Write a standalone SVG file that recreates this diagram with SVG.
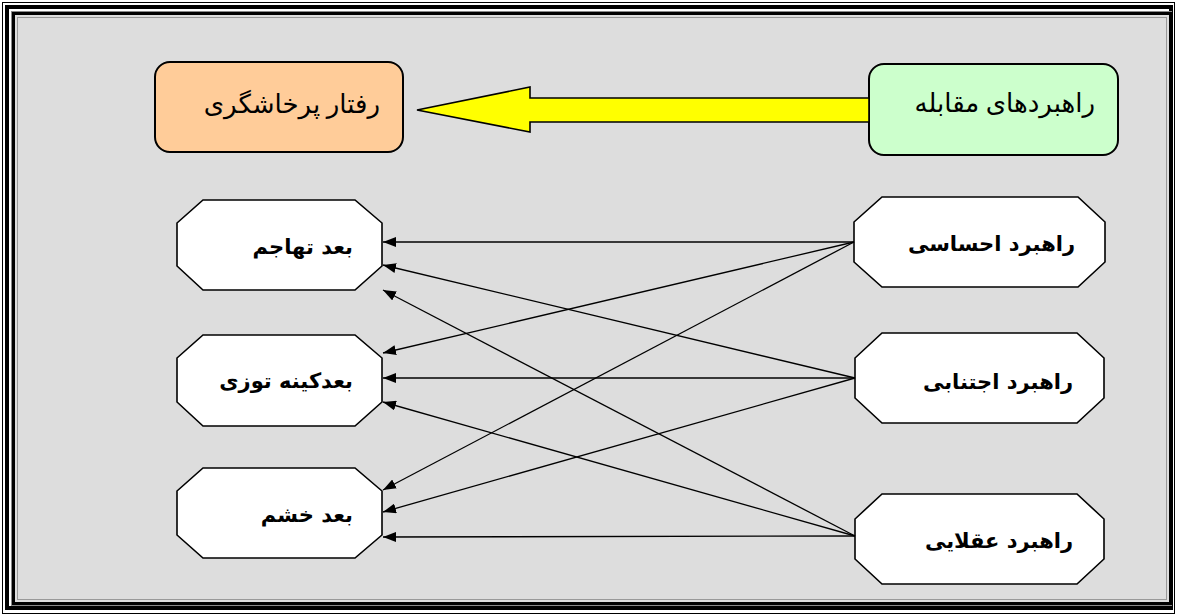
<svg xmlns="http://www.w3.org/2000/svg" width="1177" height="616" viewBox="0 0 1177 616">
<defs>
<style>
.box{stroke:#000;stroke-width:2}
.oct{fill:#fff;stroke:#000;stroke-width:1.6}
.t1{font-family:"Liberation Serif","DejaVu Serif","DejaVu Sans",serif;font-size:26px;fill:#000}
.t2{font-family:"DejaVu Sans",sans-serif;font-size:21px;font-weight:bold;fill:#000}
.con{stroke:#000;stroke-width:1.3;fill:none;marker-end:url(#ah)}
</style>
<marker id="ah" viewBox="0 0 13 10" refX="13" refY="5" markerWidth="13" markerHeight="10" markerUnits="userSpaceOnUse" orient="auto">
<path d="M0,0 L13,5 L0,10 Z" fill="#000"/>
</marker>
</defs>
<rect x="0" y="0" width="1177" height="616" fill="#fff"/>
<rect x="2.5" y="2.5" width="1172" height="611" fill="none" stroke="#000" stroke-width="1"/>
<rect x="7" y="7" width="1164" height="601" fill="none" stroke="#000" stroke-width="4"/>
<rect x="11.5" y="11.5" width="1160" height="594" fill="none" stroke="#888" stroke-width="1"/>
<rect x="13.5" y="13.5" width="1157" height="590" fill="#dddddd" stroke="#000" stroke-width="3"/>
<rect x="17.5" y="17.5" width="1149" height="582" fill="none" stroke="#999" stroke-width="1"/>

<g id="aggressive">
<rect class="box" x="155" y="62" width="248" height="90" rx="15" fill="#ffcc99"/>
<text class="t1" x="380" y="113" direction="rtl" text-anchor="start">رفتار پرخاشگری</text>
</g>
<g id="coping">
<rect class="box" x="869" y="64" width="249" height="91" rx="15" fill="#ccffcc"/>
<text class="t1" x="1095" y="112" direction="rtl" text-anchor="start">راهبردهای مقابله</text>
</g>
<g id="big-arrow">
<polygon points="417,110 530,87 530,98 869,98 869,122 530,122 530,132" fill="#ffff00" stroke="#000" stroke-width="1.6" stroke-linejoin="miter"/>
</g>

<g id="n-attack">
<polygon class="oct" points="203,200 355,200 382,223 382,266 355,290 203,290 177,266 177,223"/>
<text class="t2" x="353" y="254" direction="rtl" text-anchor="start">بعد تهاجم</text>
</g>
<g id="n-hostility">
<polygon class="oct" points="203,335 355,335 382,358 382,402 355,426 203,426 177,402 177,358"/>
<text class="t2" x="353" y="388" direction="rtl" text-anchor="start">بعدکینه توزی</text>
</g>
<g id="n-anger">
<polygon class="oct" points="203,468 355,468 382,491 382,535 355,558 203,558 177,535 177,491"/>
<text class="t2" x="353" y="522" direction="rtl" text-anchor="start">بعد خشم</text>
</g>
<g id="n-emotional">
<polygon class="oct" points="882,197 1078,197 1105,222 1105,262 1078,287 882,287 854,262 854,222"/>
<text class="t2" x="1075" y="251" direction="rtl" text-anchor="start">راهبرد احساسی</text>
</g>
<g id="n-avoidant">
<polygon class="oct" points="882,333 1077,333 1104,358 1104,398 1077,423 882,423 855,398 855,358"/>
<text class="t2" x="1073" y="389" direction="rtl" text-anchor="start">راهبرد اجتنابی</text>
</g>
<g id="n-rational">
<polygon class="oct" points="882,494 1077,494 1104,519 1104,559 1077,584 882,584 855,559 855,519"/>
<text class="t2" x="1073" y="548" direction="rtl" text-anchor="start">راهبرد عقلایی</text>
</g>

<g id="connectors">
<line class="con" x1="854" y1="242" x2="383" y2="242"/>
<line class="con" x1="854" y1="242" x2="383" y2="353"/>
<line class="con" x1="854" y1="242" x2="383" y2="490"/>
<line class="con" x1="855" y1="378" x2="383" y2="265"/>
<line class="con" x1="855" y1="378" x2="383" y2="378"/>
<line class="con" x1="855" y1="378" x2="383" y2="512"/>
<line class="con" x1="855" y1="536" x2="383" y2="290"/>
<line class="con" x1="855" y1="536" x2="383" y2="402"/>
<line class="con" x1="855" y1="536" x2="383" y2="537"/>
</g>
</svg>
